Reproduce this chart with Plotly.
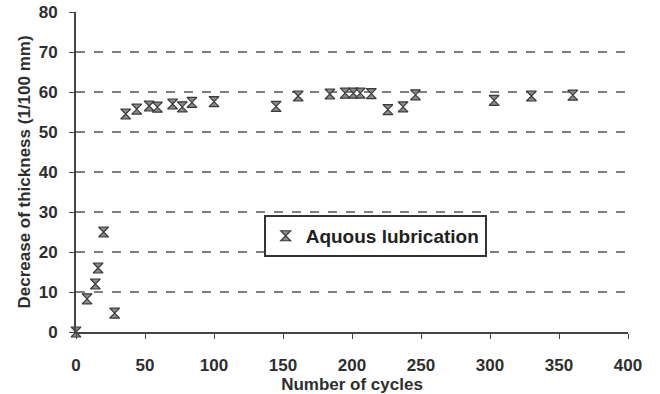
import plotly.graph_objects as go

cycles = [0, 8, 14, 16, 20, 28, 36, 44, 53, 59, 70, 77, 84, 100, 145, 161,
          184, 195, 201, 206, 214, 226, 237, 246, 303, 330, 360]
thickness = [0, 8.3, 12, 16, 25, 4.7, 54.5, 55.7, 56.5, 56.2, 57, 56.3, 57.4, 57.6, 56.4, 59,
             59.5, 59.7, 59.7, 59.7, 59.6, 55.6, 56.3, 59.3, 57.9, 59, 59.2]
series_name = "Aquous lubrication"
x_ticks = [0, 50, 100, 150, 200, 250, 300, 350, 400]
y_ticks = [0, 10, 20, 30, 40, 50, 60, 70, 80]
grid_levels = [10, 20, 30, 40, 50, 60, 70]

font_family = "Liberation Sans, Arial, sans-serif"
ink = "#2e2e2e"

fig = go.Figure()
fig.add_trace(go.Scatter(
    x=cycles, y=thickness, mode="markers", name=series_name,
    marker=dict(symbol="hourglass", size=10, color="#8a8a8a",
                line=dict(color="#3a3a3a", width=1.2)),
    cliponaxis=False,
))

for g in grid_levels:
    fig.add_shape(type="line", xref="paper", yref="y", x0=0, x1=1, y0=g, y1=g,
                  line=dict(color="#555555", width=1.3, dash="dash"), layer="below")

fig.update_layout(
    width=660, height=394,
    margin=dict(l=76, r=32, t=12, b=62),
    paper_bgcolor="white", plot_bgcolor="white",
    font=dict(family=font_family, size=17, color=ink, weight="bold"),
    showlegend=True,
    legend=dict(x=0.34, y=0.366, xanchor="left", yanchor="top",
                bgcolor="white", bordercolor="#333333", borderwidth=2,
                font=dict(size=19, color="#222222", weight="bold"),
                itemwidth=30),
    xaxis=dict(range=[0, 400], tickvals=x_ticks, showgrid=False, zeroline=False,
               automargin=False,
               showline=True, linecolor="#444444", linewidth=2,
               ticks="outside", ticklen=5, tickcolor="#444444", tickwidth=1,
               ticklabelstandoff=12,
               title=dict(text="Number of cycles", standoff=2,
                          font=dict(size=17, weight="bold")),
               tickfont=dict(size=17, weight="bold")),
    yaxis=dict(range=[0, 80], tickvals=y_ticks, showgrid=False, zeroline=False,
               automargin=False,
               showline=True, linecolor="#444444", linewidth=2,
               ticks="outside", ticklen=5, tickcolor="#444444", tickwidth=1,
               ticklabelstandoff=8,
               title=dict(text="Decrease of thickness (1/100 mm)", standoff=4,
                          font=dict(size=17, weight="bold")),
               tickfont=dict(size=17, weight="bold")),
)

fig.write_html("out.html")
